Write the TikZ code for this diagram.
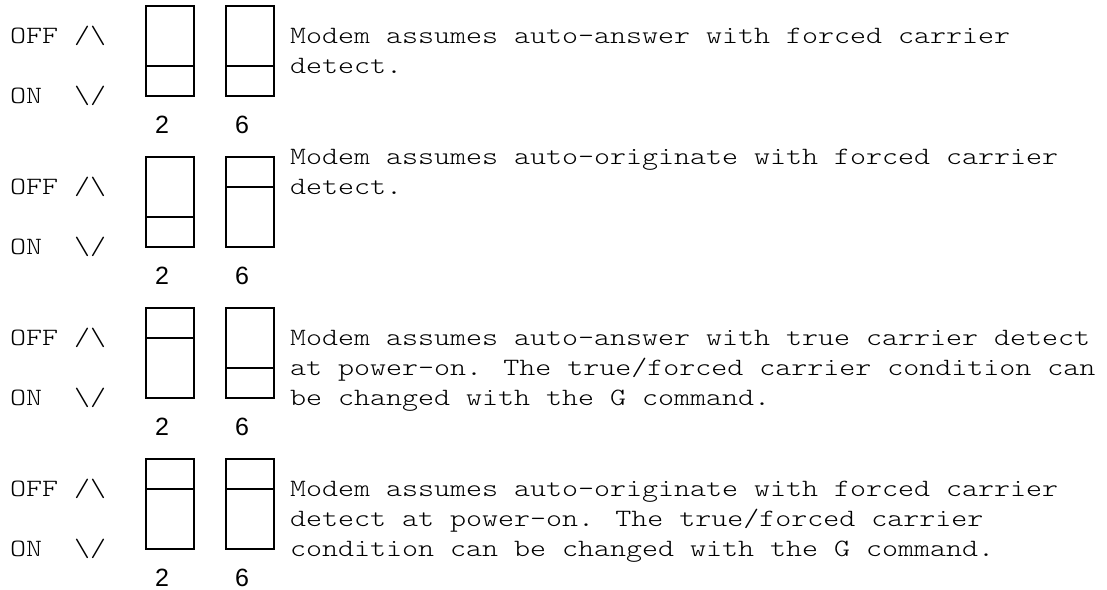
\documentclass[tikz,border=0pt]{standalone}
\usepackage{fontspec}
\newfontfamily\typefont[FakeStretch=1.224]{Latin Modern Mono Light}
\newfontfamily\digitfont{Liberation Sans}
\tikzset{
  txt/.style={anchor=base west, inner sep=0pt, outer sep=0pt},
  digit/.style={anchor=base, inner sep=0pt, outer sep=0pt,
    font=\digitfont\fontsize{25}{30}\selectfont},
  switchbox/.style={line width=2pt},
}
\begin{document}
\begin{tikzpicture}[x=1pt, y=-1pt, font=\typefont\fontsize{24.9}{30.2}\selectfont]
    \useasboundingbox (0,0) rectangle (1107,589);
      %%block 1
      \node[txt] (off1) at (10, 43.2){OFF};
      \node[txt] (up1) at (74, 43.2){/\textbackslash};
      \node[txt] (on1) at (10, 103.6){ON};
      \node[txt] (dn1) at (74, 103.6){\textbackslash/};
        \draw[switchbox](146, 5.5) rectangle (194, 96.1);
        \draw[switchbox](146, 65.9) to (194, 65.9);
        \draw[switchbox](226, 5.5) rectangle (274, 96.1);
        \draw[switchbox](226, 65.9) to (274, 65.9);
      \node[digit] (sa1) at (162, 133.6){2};
      \node[digit] (sb1) at (242, 133.6){6};
      \node[txt] (ta1) at (290, 43.2){Modem assumes auto-answer with forced carrier};
      \node[txt] (tb1) at (290, 73.4){detect.};

      %%block 2
      \node[txt] (off2) at (10, 194.2){OFF};
      \node[txt] (up2) at (74, 194.2){/\textbackslash};
      \node[txt] (on2) at (10, 254.6){ON};
      \node[txt] (dn2) at (74, 254.6){\textbackslash/};
        \draw[switchbox](146, 156.5) rectangle (194, 247.1);
        \draw[switchbox](146, 216.9) to (194, 216.9);
        \draw[switchbox](226, 156.5) rectangle (274, 247.1);
        \draw[switchbox](226, 186.7) to (274, 186.7);
      \node[digit] (sa2) at (162, 284.6){2};
      \node[digit] (sb2) at (242, 284.6){6};
      \node[txt] (ta2) at (290, 164){Modem assumes auto-originate with forced carrier};
      \node[txt] (tb2) at (290, 194.2){detect.};

      %%block 3
      \node[txt] (off3) at (10, 345.2){OFF};
      \node[txt] (up3) at (74, 345.2){/\textbackslash};
      \node[txt] (on3) at (10, 405.6){ON};
      \node[txt] (dn3) at (74, 405.6){\textbackslash/};
        \draw[switchbox](146, 307.5) rectangle (194, 398.1);
        \draw[switchbox](146, 337.7) to (194, 337.7);
        \draw[switchbox](226, 307.5) rectangle (274, 398.1);
        \draw[switchbox](226, 367.9) to (274, 367.9);
      \node[digit] (sa3) at (162, 435.6){2};
      \node[digit] (sb3) at (242, 435.6){6};
      \node[txt] (ta3) at (290, 345.2){Modem assumes auto-answer with true carrier detect};
      \node[txt] (tb3) at (290, 375.4){at power-on. The true/forced carrier condition can};
      \node[txt] (tc3) at (290, 405.6){be changed with the G command.};

      %%block 4
      \node[txt] (off4) at (10, 496.2){OFF};
      \node[txt] (up4) at (74, 496.2){/\textbackslash};
      \node[txt] (on4) at (10, 556.6){ON};
      \node[txt] (dn4) at (74, 556.6){\textbackslash/};
        \draw[switchbox](146, 458.5) rectangle (194, 549.1);
        \draw[switchbox](146, 488.7) to (194, 488.7);
        \draw[switchbox](226, 458.5) rectangle (274, 549.1);
        \draw[switchbox](226, 488.7) to (274, 488.7);
      \node[digit] (sa4) at (162, 586.6){2};
      \node[digit] (sb4) at (242, 586.6){6};
      \node[txt] (ta4) at (290, 496.2){Modem assumes auto-originate with forced carrier};
      \node[txt] (tb4) at (290, 526.4){detect at power-on. The true/forced carrier};
      \node[txt] (tc4) at (290, 556.6){condition can be changed with the G command.};
\end{tikzpicture}
\end{document}
